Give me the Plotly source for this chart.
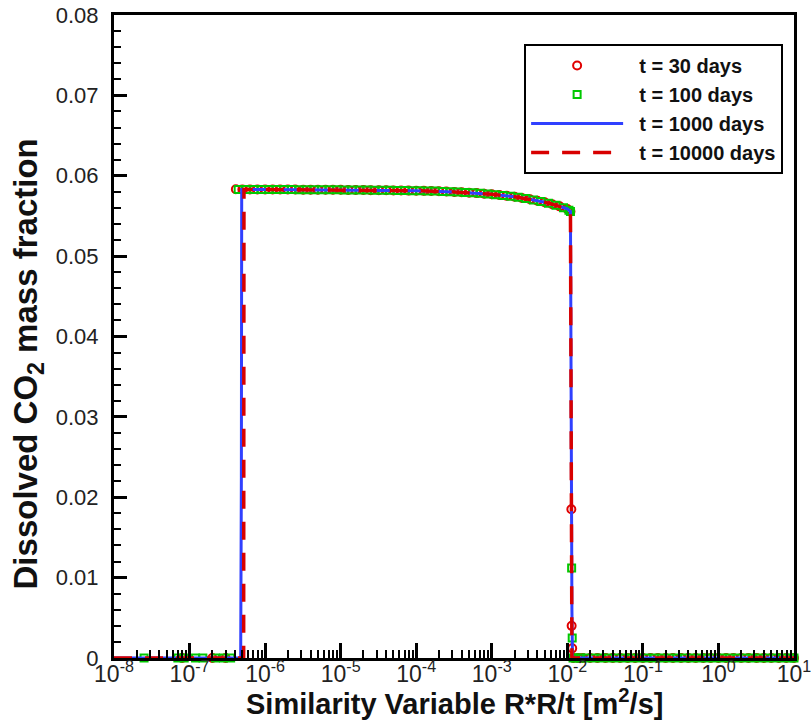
import plotly.graph_objects as go

# ---------------- data ----------------
# t = 30 days (open circles)
x30 = [8.0e-8, 2.0e-7, 3.0e-7,
       4.1e-7, 5.0e-7, 6.3e-7, 7.9e-7, 1.0e-6, 1.26e-6, 1.58e-6, 2.0e-6, 2.5e-6, 3.2e-6,
       4.0e-6, 5.0e-6, 6.3e-6, 7.9e-6, 1.0e-5, 1.26e-5, 1.58e-5, 2.0e-5, 2.5e-5, 3.2e-5,
       4.0e-5, 5.0e-5, 6.3e-5, 7.9e-5, 1.0e-4, 1.26e-4, 1.58e-4, 2.0e-4, 2.5e-4, 3.2e-4,
       4.0e-4, 5.0e-4, 6.3e-4, 7.9e-4, 1.0e-3, 1.26e-3, 1.58e-3, 2.0e-3, 2.5e-3, 3.2e-3,
       4.0e-3, 5.0e-3, 6.3e-3, 7.9e-3, 1.0e-2, 1.1e-2,
       1.13e-2, 1.14e-2, 1.16e-2,
       1.2e-2, 1.4e-2, 1.6e-2, 2.0e-2, 2.5e-2, 3.2e-2, 4.0e-2, 5.0e-2, 6.3e-2, 7.9e-2,
       1.0e-1, 1.26e-1, 1.58e-1, 2.0e-1, 2.5e-1, 3.2e-1, 4.0e-1, 5.0e-1, 6.3e-1, 7.9e-1,
       1.0, 1.26, 1.58, 2.0, 2.5, 3.2, 4.0, 5.0, 6.3, 7.9, 10.0]
y30 = [0.0, 0.0, 0.0,
       0.05832, 0.05830, 0.05830, 0.05830, 0.05829, 0.05829, 0.05829, 0.05828, 0.05828, 0.05827,
       0.05827, 0.05826, 0.05826, 0.05825, 0.05825, 0.05824, 0.05823, 0.05822, 0.05821, 0.05820,
       0.05819, 0.05818, 0.05816, 0.05815, 0.05814, 0.05812, 0.05810, 0.05807, 0.05803, 0.05799,
       0.05795, 0.05790, 0.05784, 0.05777, 0.05769, 0.05760, 0.05750, 0.05738, 0.05724, 0.05708,
       0.05690, 0.05670, 0.05646, 0.05619, 0.05587, 0.05555,
       0.0185, 0.0040, 0.0012,
       0.0, 0.0, 0.0, 0.0, 0.0, 0.0, 0.0, 0.0, 0.0, 0.0,
       0.0, 0.0, 0.0, 0.0, 0.0, 0.0, 0.0, 0.0, 0.0, 0.0,
       0.0, 0.0, 0.0, 0.0, 0.0, 0.0, 0.0, 0.0, 0.0, 0.0, 0.0]

# t = 100 days (open squares)
x100 = [2.5e-8, 7.0e-8, 8.5e-8, 1.2e-7, 1.5e-7, 2.2e-7, 2.8e-7, 3.5e-7,
        4.4e-7, 5.6e-7, 7.1e-7, 8.9e-7, 1.12e-6, 1.41e-6, 1.78e-6, 2.24e-6, 2.82e-6, 3.55e-6,
        4.47e-6, 5.62e-6, 7.08e-6, 8.91e-6, 1.12e-5, 1.41e-5, 1.78e-5, 2.24e-5, 2.82e-5, 3.55e-5,
        4.47e-5, 5.62e-5, 7.08e-5, 8.91e-5, 1.12e-4, 1.41e-4, 1.78e-4, 2.24e-4, 2.82e-4, 3.55e-4,
        4.47e-4, 5.62e-4, 7.08e-4, 8.91e-4, 1.12e-3, 1.41e-3, 1.78e-3, 2.24e-3, 2.82e-3, 3.55e-3,
        4.47e-3, 5.62e-3, 7.08e-3, 8.91e-3, 1.05e-2, 1.1e-2,
        1.14e-2, 1.16e-2,
        1.19e-2, 1.3e-2, 1.5e-2, 1.78e-2, 2.24e-2, 2.82e-2, 3.55e-2, 4.47e-2, 5.62e-2, 7.08e-2,
        8.91e-2, 1.12e-1, 1.41e-1, 1.78e-1, 2.24e-1, 2.82e-1, 3.55e-1, 4.47e-1, 5.62e-1, 7.08e-1,
        8.91e-1, 1.12, 1.41, 1.78, 2.24, 2.82, 3.55, 4.47, 5.62, 7.08, 8.91, 10.0]
y100 = [0.0, 0.0, 0.0, 0.0, 0.0, 0.0, 0.0, 0.0,
        0.05830, 0.05829, 0.05829, 0.05829, 0.05829, 0.05828, 0.05828, 0.05828, 0.05827, 0.05827,
        0.05826, 0.05826, 0.05825, 0.05825, 0.05824, 0.05824, 0.05823, 0.05822, 0.05821, 0.05820,
        0.05819, 0.05817, 0.05816, 0.05814, 0.05813, 0.05811, 0.05809, 0.05805, 0.05801, 0.05797,
        0.05793, 0.05787, 0.05781, 0.05773, 0.05765, 0.05755, 0.05744, 0.05731, 0.05716, 0.05699,
        0.05680, 0.05658, 0.05633, 0.05603, 0.05572, 0.05555,
        0.0112, 0.0025,
        0.0, 0.0, 0.0, 0.0, 0.0, 0.0, 0.0, 0.0, 0.0, 0.0,
        0.0, 0.0, 0.0, 0.0, 0.0, 0.0, 0.0, 0.0, 0.0, 0.0,
        0.0, 0.0, 0.0, 0.0, 0.0, 0.0, 0.0, 0.0, 0.0, 0.0, 0.0, 0.0]

# t = 1000 days (solid line)
x1000 = [1.0e-8, 4.75e-7, 4.85e-7, 4.9e-7, 1.0e-6, 1.0e-5, 1.0e-4, 3.2e-4, 1.0e-3, 2.0e-3,
         3.2e-3, 5.0e-3, 6.3e-3, 7.9e-3, 1.0e-2, 1.1e-2, 1.15e-2, 1.17e-2, 10.0]
y1000 = [0.0, 0.0, 0.0225, 0.05830, 0.05829, 0.05825, 0.05814, 0.05799, 0.05769, 0.05738,
         0.05708, 0.05670, 0.05646, 0.05619, 0.05587, 0.05555, 0.0060, 0.0, 0.0]

# t = 10000 days (dashed line)
x10000 = [1.0e-8, 5.2e-7, 5.25e-7, 1.0e-6, 1.0e-5, 1.0e-4, 3.2e-4, 1.0e-3, 2.0e-3,
          3.2e-3, 5.0e-3, 6.3e-3, 7.9e-3, 1.0e-2, 1.1e-2, 1.13e-2, 1.15e-2, 10.0]
y10000 = [0.0, 0.0, 0.05830, 0.05829, 0.05825, 0.05814, 0.05799, 0.05769, 0.05738,
          0.05708, 0.05670, 0.05646, 0.05619, 0.05587, 0.05555, 0.0250, 0.0, 0.0]

series_names = ["t = 30 days", "t = 100 days", "t = 1000 days", "t = 10000 days"]
x_tickvals = [1e-8, 1e-7, 1e-6, 1e-5, 1e-4, 1e-3, 1e-2, 1e-1, 1e0, 1e1]
x_ticktext = ["10<sup>-8</sup>", "10<sup>-7</sup>", "10<sup>-6</sup>", "10<sup>-5</sup>",
              "10<sup>-4</sup>", "10<sup>-3</sup>", "10<sup>-2</sup>", "10<sup>-1</sup>",
              "10<sup>0</sup>", "10<sup>1</sup>"]
y_tickvals = [0, 0.01, 0.02, 0.03, 0.04, 0.05, 0.06, 0.07, 0.08]
y_ticktext = ["0", "0.01", "0.02", "0.03", "0.04", "0.05", "0.06", "0.07", "0.08"]
x_title = "Similarity Variable R*R/t [m<sup>2</sup>/s]"
y_title = "Dissolved CO<sub>2</sub> mass fraction"

# ---------------- figure ----------------
FONT = "Liberation Sans, Arial, sans-serif"
GAP = "\u00a0\u00a0"


def legend_label(name):
    return "<b>" + GAP + name + "</b>"


fig = go.Figure()
fig.add_trace(go.Scatter(x=x30, y=y30, mode="markers", name=legend_label(series_names[0]),
                         cliponaxis=False,
                         marker=dict(symbol="circle-open", size=8, color="#e00000",
                                     line=dict(width=2, color="#e00000"))))
fig.add_trace(go.Scatter(x=x100, y=y100, mode="markers", name=legend_label(series_names[1]),
                         cliponaxis=False,
                         marker=dict(symbol="square-open", size=7, color="#00c800",
                                     line=dict(width=2, color="#00c800"))))
fig.add_trace(go.Scatter(x=x1000, y=y1000, mode="lines", name=legend_label(series_names[2]),
                         cliponaxis=False,
                         line=dict(color="#3040ff", width=3)))
fig.add_trace(go.Scatter(x=x10000, y=y10000, mode="lines", name=legend_label(series_names[3]),
                         cliponaxis=False,
                         line=dict(color="#d80000", width=3.5, dash="18px,13px")))

fig.update_layout(
    width=811, height=723,
    margin=dict(l=114, r=17, t=15, b=65, autoexpand=False),
    paper_bgcolor="white", plot_bgcolor="white",
    font=dict(family=FONT, color="#222222"),
    showlegend=True,
    legend=dict(x=0.984, y=0.955, xanchor="right", yanchor="top",
                bgcolor="white", bordercolor="black", borderwidth=2,
                font=dict(family=FONT, size=20, color="#111111"),
                itemwidth=92, tracegroupgap=0),
    annotations=[
        dict(text="<b>" + y_title + "</b>", xref="paper", yref="paper",
             x=-0.126, y=0.457, xanchor="center", yanchor="middle", textangle=-90,
             showarrow=False, font=dict(family=FONT, size=33, color="#111111")),
        dict(text="<b>" + x_title + "</b>", xref="paper", yref="paper",
             x=0.5, y=-0.068, xanchor="center", yanchor="middle",
             showarrow=False, font=dict(family=FONT, size=29, color="#111111")),
    ],
)
fig.update_xaxes(
    type="log", range=[-8, 1], tickmode="array", tickvals=x_tickvals, ticktext=x_ticktext,
    showgrid=False, zeroline=False,
    showline=True, linewidth=3, linecolor="black", mirror=True,
    ticks="inside", ticklen=15, tickwidth=3, tickcolor="black",
    tickfont=dict(family=FONT, size=23, color="#222222"),
    ticklabelstandoff=-7, ticklabeloverflow="allow",
    minor=dict(ticks="inside", ticklen=8, tickwidth=2, tickcolor="black", dtick="D1", showgrid=False),
    automargin=False,
)
fig.update_yaxes(
    range=[0, 0.08], tickmode="array", tickvals=y_tickvals, ticktext=y_ticktext,
    showgrid=False, zeroline=False,
    showline=True, linewidth=3, linecolor="black", mirror=True,
    ticks="inside", ticklen=13, tickwidth=3, tickcolor="black",
    tickfont=dict(family=FONT, size=22, color="#222222"),
    ticklabelstandoff=8,
    minor=dict(ticks="inside", ticklen=7, tickwidth=2, tickcolor="black", dtick=0.002, showgrid=False),
    automargin=False,
)

fig.write_html("out.html")
